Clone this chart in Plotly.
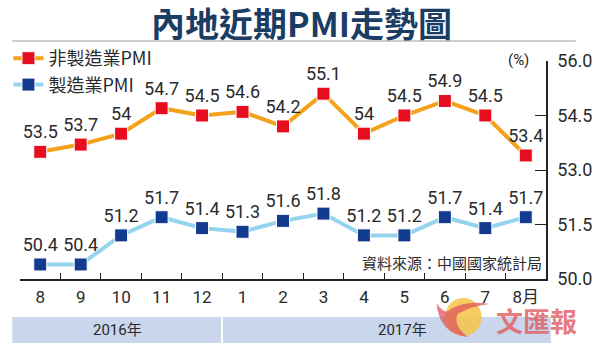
import plotly.graph_objects as go

# Monthly PMI readings, Aug 2016 - Aug 2017
months = ["8", "9", "10", "11", "12", "1", "2", "3", "4", "5", "6", "7", "8月"]
non_mfg_pmi = [53.5, 53.7, 54.0, 54.7, 54.5, 54.6, 54.2, 55.1, 54.0, 54.5, 54.9, 54.5, 53.4]
mfg_pmi = [50.4, 50.4, 51.2, 51.7, 51.4, 51.3, 51.6, 51.8, 51.2, 51.2, 51.7, 51.4, 51.7]
y_ticks = [50.0, 51.5, 53.0, 54.5, 56.0]
year_labels = ["2016年", "2017年"]

W, H = 600, 346
L, R, T, B = 8, 45, 61, 67
PW, PH = W - L - R, H - T - B

def px(x):
    return (x - L) / PW

def py(y):
    return (H - B - y) / PH

FONT = "Liberation Sans Narrow, Roboto, Liberation Sans, Noto Sans CJK TC"
CJK = "Noto Sans CJK TC, Noto Sans CJK SC, sans-serif"

fig = go.Figure()

fig.add_trace(go.Scatter(
    x=months, y=non_mfg_pmi, name="非製造業PMI",
    mode="lines+markers+text",
    line=dict(color="#f4a21c", width=4),
    marker=dict(symbol="square", size=13, color="#e60d1e", line=dict(color="white", width=1)),
    text=[f"{v:g}" for v in non_mfg_pmi], textposition="top center",
    textfont=dict(family=FONT, size=18, color="#2a2a2a"),
    cliponaxis=False,
))
fig.add_trace(go.Scatter(
    x=months, y=mfg_pmi, name="製造業PMI",
    mode="lines+markers+text",
    line=dict(color="#94d4ee", width=4),
    marker=dict(symbol="square", size=13, color="#123a8e", line=dict(color="white", width=1)),
    text=[f"{v:g}" for v in mfg_pmi], textposition="top center",
    textfont=dict(family=FONT, size=18, color="#2a2a2a"),
    cliponaxis=False,
))

shapes = []
annotations = []

# rule under the title
shapes.append(dict(type="line", xref="paper", yref="paper",
                   x0=px(0), x1=px(586), y0=py(41), y1=py(41),
                   line=dict(color="#9a9a9a", width=1)))

# year band along the bottom
shapes.append(dict(type="rect", xref="paper", yref="paper",
                   x0=px(0), x1=px(560), y0=py(343), y1=py(317),
                   fillcolor="#c9d6ec", line=dict(width=0), layer="below"))
shapes.append(dict(type="line", xref="paper", yref="paper",
                   x0=px(218), x1=px(218), y0=py(343), y1=py(317),
                   line=dict(color="white", width=2)))

# publisher mark: sun disc with a red flame sweeping round its lower left
shapes.append(dict(type="circle", xref="paper", yref="paper",
                   x0=px(450), x1=px(488), y0=py(336), y1=py(298),
                   fillcolor="rgba(246,196,70,0.85)", line=dict(width=0)))


def pt(x, y):
    return f"{px(x):.4f},{py(y):.4f}"


flame = ("M " + pt(441, 303) + " Q " + pt(444, 334) + " " + pt(474, 337)
         + " Q " + pt(458, 326) + " " + pt(463, 314)
         + " Q " + pt(478, 306) + " " + pt(496, 304)
         + " Q " + pt(472, 300) + " " + pt(456, 309)
         + " Q " + pt(450, 316) + " " + pt(441, 303) + " Z")
shapes.append(dict(type="path", xref="paper", yref="paper", path=flame,
                   fillcolor="rgba(222,86,92,0.75)", line=dict(width=0)))


def note(text, x, y, size, family, color="#2a2a2a", xanchor="center"):
    annotations.append(dict(text=text, xref="paper", yref="paper",
                            x=px(x), y=py(y), xanchor=xanchor, yanchor="middle",
                            showarrow=False, borderpad=0,
                            font=dict(family=family, size=size, color=color)))


note("<b>內地近期PMI走勢圖</b>", 301, 23, 34, CJK, color="#1b3d63")
note("(%)", 538, 60, 15, FONT, xanchor="right")
note("資料來源：中國國家統計局", 552, 262, 15, CJK, xanchor="right")
for label, cx in zip(year_labels, [109, 406]):
    note(label, cx, 330, 15, FONT)
note("<b>文匯報</b>", 545, 320, 27, "Noto Sans CJK TC", color="rgba(224,90,92,0.8)")

fig.update_layout(
    width=W, height=H,
    margin=dict(l=L, r=R, t=T, b=B),
    paper_bgcolor="white", plot_bgcolor="white",
    shapes=shapes, annotations=annotations,
    legend=dict(x=px(-4), y=py(40), xanchor="left", yanchor="top",
                font=dict(family=CJK, size=18, color="#2a2a2a"),
                bgcolor="rgba(0,0,0,0)", tracegroupgap=0, itemwidth=30),
    xaxis=dict(type="category", range=[-0.5, 12.5], showgrid=False,
               showline=True, linecolor="#222", linewidth=1.5,
               ticks="inside", tickson="boundaries", ticklen=6, tickcolor="#222",
               tickfont=dict(family=FONT, size=17, color="#2a2a2a"),
               ticklabelstandoff=2, fixedrange=True),
    yaxis=dict(range=[50, 56], side="right", showgrid=False, zeroline=False,
               showline=True, linecolor="#222", linewidth=1.5,
               ticks="inside", ticklen=11, tickcolor="#222",
               tickvals=y_ticks, ticktext=[f"{v:.1f}" for v in y_ticks],
               tickfont=dict(family=FONT, size=18, color="#2a2a2a"),
               ticklabelstandoff=6, fixedrange=True),
)

fig.write_html("out.html")
